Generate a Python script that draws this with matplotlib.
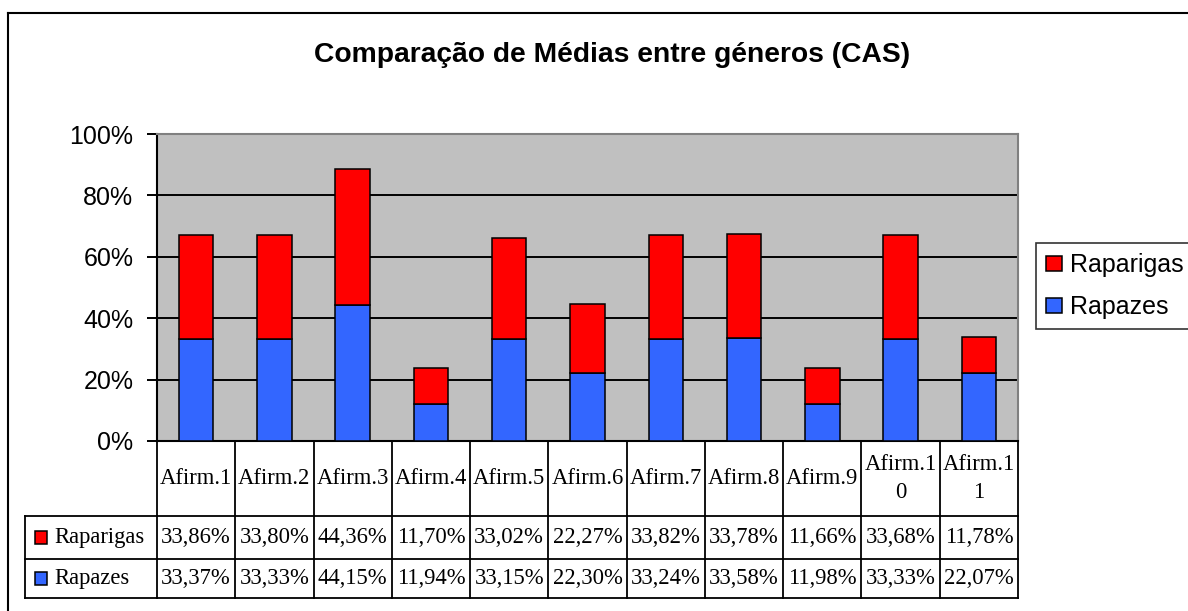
import matplotlib
matplotlib.use('Agg')
import matplotlib.pyplot as plt
import numpy as np
from matplotlib.transforms import blended_transform_factory
from matplotlib.patches import Rectangle
from matplotlib.lines import Line2D

categories = ["Afirm.1", "Afirm.2", "Afirm.3", "Afirm.4", "Afirm.5", "Afirm.6",
              "Afirm.7", "Afirm.8", "Afirm.9", "Afirm.10", "Afirm.11"]
rapazes = [33.37, 33.33, 44.15, 11.94, 33.15, 22.30, 33.24, 33.58, 11.98, 33.33, 22.07]
raparigas = [33.86, 33.80, 44.36, 11.70, 33.02, 22.27, 33.82, 33.78, 11.66, 33.68, 11.78]
yticks = [0, 20, 40, 60, 80, 100]

title = "Comparação de Médias entre géneros (CAS)"
BLUE = '#3366FF'
RED = '#FF0000'
GRAY = '#C0C0C0'
SANS = 'Liberation Sans'
SERIF = 'Liberation Serif'

W, H = 1188, 611
fig = plt.figure(figsize=(W / 100, H / 100), dpi=100)
fig.patch.set_facecolor('white')


def fx(px):
    return px / W


def fy(py):
    return 1 - py / H


# outer chart border (only top and left visible)
fig.add_artist(Line2D([fx(8), fx(8)], [fy(13), 0], color='black', lw=1.5, transform=fig.transFigure))
fig.add_artist(Line2D([fx(8), 1], [fy(13), fy(13)], color='black', lw=1.5, transform=fig.transFigure))

ax = fig.add_axes([fx(157), fy(441), fx(1018) - fx(157), fy(134) - fy(441)])
ax.set_facecolor(GRAY)
x = np.arange(len(categories))
b1 = ax.bar(x, rapazes, width=0.44, color=BLUE, edgecolor='black', lw=1.1, label='Rapazes', zorder=3)
b2 = ax.bar(x, raparigas, bottom=rapazes, width=0.44, color=RED, edgecolor='black', lw=1.1,
            label='Raparigas', zorder=3)
ax.set_xlim(-0.5, len(categories) - 0.5)
ax.set_ylim(0, 100)
ax.set_yticks(yticks)
ax.set_yticklabels([f"{v}%" for v in yticks], fontfamily=SANS, fontsize=18)
ax.set_xticks([])
ax.grid(axis='y', color='black', lw=1.4, zorder=1)
ax.set_axisbelow(True)
ax.tick_params(axis='y', length=7, width=1.4, pad=10, color='black')
for s in ['left', 'bottom']:
    ax.spines[s].set_color('black')
    ax.spines[s].set_linewidth(1.5)
for s in ['top', 'right']:
    ax.spines[s].set_color('#808080')
    ax.spines[s].set_linewidth(1.5)

# title
fig.text(fx(612), fy(55), title, ha='center', va='center', fontsize=20.3,
         fontweight='bold', fontfamily=SANS)

# legend
leg = fig.legend([b2, b1], ['Raparigas', 'Rapazes'], loc='upper left',
                 bbox_to_anchor=(fx(1036), fy(243)), frameon=True, fancybox=False,
                 edgecolor='black', handlelength=0.62, handleheight=0.56,
                 handletextpad=0.36, borderaxespad=0, borderpad=0.4, labelspacing=0.72,
                 prop={'family': SANS, 'size': 18})
leg.get_frame().set_linewidth(1.2)

# data table
tr = blended_transform_factory(ax.transData, fig.transFigure)
rows_px = [441, 516, 559, 598]
n = len(categories)
lw = 1.3
for py in rows_px[1:]:
    fig.add_artist(Line2D([-0.5, n - 0.5], [fy(py), fy(py)], color='black', lw=lw, transform=tr))
    fig.add_artist(Line2D([fx(25), fx(157)], [fy(py), fy(py)], color='black', lw=lw,
                          transform=fig.transFigure))
for i in range(n + 1):
    fig.add_artist(Line2D([i - 0.5, i - 0.5], [fy(rows_px[0]), fy(rows_px[-1])], color='black',
                          lw=lw, transform=tr))
fig.add_artist(Line2D([fx(25), fx(25)], [fy(rows_px[1]), fy(rows_px[-1])], color='black', lw=lw,
                      transform=fig.transFigure))

tsize = 16.3
for i, c in enumerate(categories):
    lab = c if len(c) <= 7 else c[:7] + "\n" + c[7:]
    fig.text(i, fy((rows_px[0] + rows_px[1]) / 2), lab, ha='center', va='center',
             fontsize=tsize, fontfamily=SERIF, transform=tr, linespacing=1.45)


def fmt(v):
    return f"{v:.2f}%".replace('.', ',')


series = [("Raparigas", raparigas, RED), ("Rapazes", rapazes, BLUE)]
for r, (name, vals, col) in enumerate(series):
    ymid = fy((rows_px[r + 1] + rows_px[r + 2]) / 2)
    for i, v in enumerate(vals):
        fig.text(i, ymid, fmt(v), ha='center', va='center', fontsize=tsize,
                 fontfamily=SERIF, transform=tr)
    fig.add_artist(Rectangle((fx(35), ymid - 6.5 / H), 12 / W, 13 / H, facecolor=col,
                             edgecolor='black', lw=1.1, transform=fig.transFigure))
    fig.text(fx(54), ymid, name, ha='left', va='center', fontsize=tsize, fontfamily=SERIF)

fig.savefig('out.png', dpi=100)
